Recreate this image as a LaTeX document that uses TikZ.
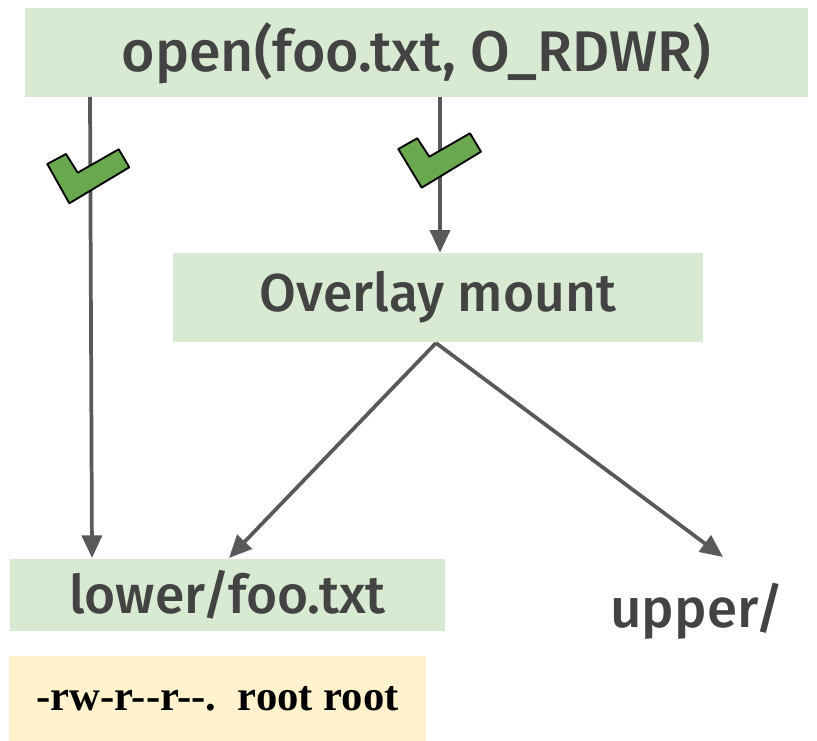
\documentclass[tikz,border=0pt]{standalone}
\usepackage{fontspec}
\setmainfont{Fira Sans}[UprightFont={* Medium}]
\newfontfamily\permfont{Liberation Serif}
\usetikzlibrary{arrows.meta}
\definecolor{boxgreen}{HTML}{D9EAD3}
\definecolor{boxyellow}{HTML}{FFF2CC}
\definecolor{txtgray}{HTML}{434343}
\definecolor{linegray}{HTML}{595959}
\definecolor{checkgreen}{HTML}{6AA84F}

\begin{document}
\begin{tikzpicture}[
        x=0.75pt, y=-0.75pt,
        box/.style={
            fill=boxgreen, draw=none, inner sep=0pt,
            text=txtgray, font=\fontsize{40}{46}\selectfont
        },
        arrow/.style={-{Triangle[length=17pt, width=15pt]}, draw=linegray, line width=2.8pt},
        check/.style={fill=checkgreen, draw=black, line width=1.4pt, line join=round}
    ]
        \useasboundingbox (0,0) rectangle (817,741);

        % Boxes
        \node[box, minimum width=783*0.75pt, minimum height=89*0.75pt, font=\fontsize{43}{48}\selectfont] (open) at (416.5,53) {open(foo.txt, O\_RDWR)};
        \node[box, minimum width=530*0.75pt, minimum height=89*0.75pt] (overlay) at (438,297.5) {Overlay mount};
        \node[box, minimum width=435*0.75pt, minimum height=72*0.75pt] (lower) at (227.5,595) {lower/foo.txt};
        \node[text=txtgray, font=\fontsize{41}{46}\selectfont, inner sep=0pt] (upper) at (697,611) {upper/};
        \node[fill=boxyellow, inner sep=0pt, minimum width=417*0.75pt, minimum height=85*0.75pt,
              font=\permfont\bfseries\fontsize{32}{36}\selectfont] (perm) at (217.5,698.5) {-rw-r-{}-r-{}-.\ \ root root};

        % Arrows
        \coordinate (openL) at (90,97);
        \coordinate (openR) at (440,97);
        \coordinate (lowerL) at (92,558);
        \coordinate (lowerR) at (229,558);
        \coordinate (overB) at (436,343);
        \coordinate (upperT) at (723,557);
        \draw[arrow] (openL) -- (lowerL);
        \draw[arrow] (openR) -- (overlay.north -| openR);
        \draw[arrow] (overB) -- (lowerR);
        \draw[arrow] (overB) -- (upperT);

        % Checks
        \draw[check] (47.3,164) -- (66,154) -- (77.7,172.7) -- (118.7,149.3) -- (129.3,167.3) -- (69.3,203.3) -- cycle;
        \draw[check] (398.3,149) -- (417.3,138.3) -- (429.3,156.7) -- (470,133.3) -- (481,151.7) -- (421.7,187.7) -- cycle;

\end{tikzpicture}
\end{document}
